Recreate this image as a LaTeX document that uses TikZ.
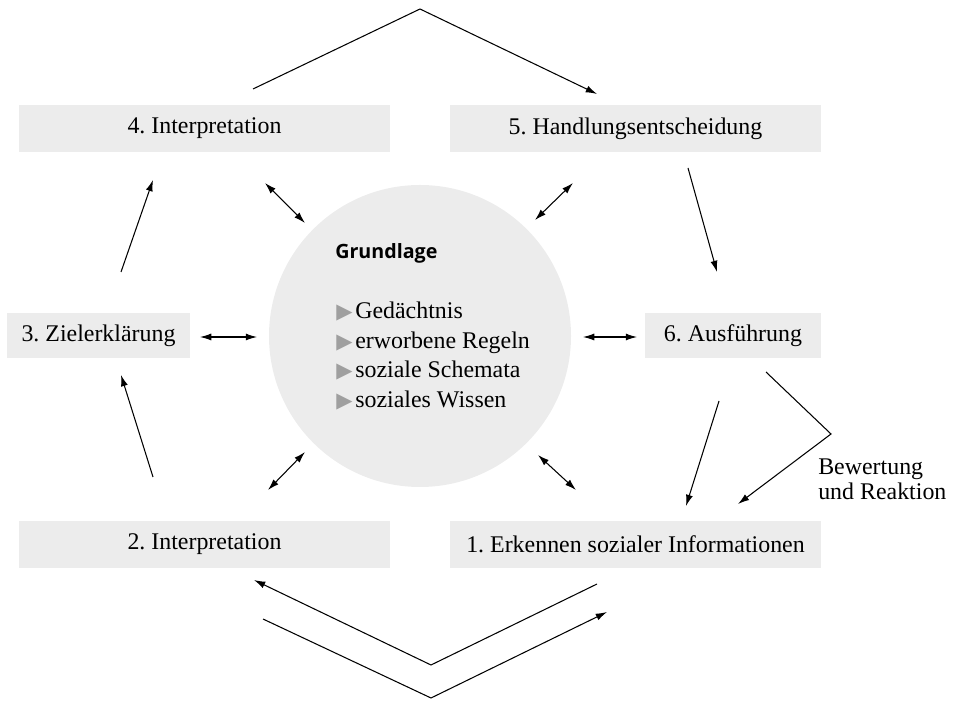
\documentclass[tikz,border=0pt]{standalone}
\usepackage{fontspec}
\setmainfont{Liberation Serif}
\newfontfamily\grundfont{Open Sans}
\newfontfamily\symbolfont{DejaVu Sans}
\usetikzlibrary{arrows.meta}
\newcommand{\punkt}{{\symbolfont\fontsize{15}{15}\selectfont\textcolor{gray!75}{▶}}\hspace{2pt}}

\begin{document}
\frenchspacing
\begin{tikzpicture}[
	kasten/.style={fill=gray!15, inner sep=0pt, minimum height=1.175cm, font=\fontsize{17}{20}\selectfont},
	pfeil/.style={-{Latex[length=8pt,width=5pt]}, line width=0.75pt},
	doppelpfeil/.style={{Latex[length=8pt,width=5pt]}-{Latex[length=8pt,width=5pt]}, line width=0.75pt}]
	\useasboundingbox (0,0) rectangle (24,17.5);

	% Grundlage in der Mitte
	\node[circle, fill=gray!15, minimum size=7.55cm, inner sep=0pt] (kreis) at (10.5,9.1) {};
	\node[anchor=west, inner sep=0pt, font=\grundfont\bfseries\fontsize{14}{16}\selectfont] (grundlage) at (8.375,11.175) {Grundlage};
	\node[anchor=west, inner sep=0pt, align=left, font=\fontsize{17}{21}\selectfont] (liste) at (8.4,8.6)
		{\punkt Gedächtnis\\ \punkt erworbene Regeln\\ \punkt soziale Schemata\\ \punkt soziales Wissen};

	% Schritte
	\node[kasten, minimum width=9.275cm] (schritt1) at (15.8875,3.8875) {1. Erkennen sozialer Informationen};
	\node[kasten, minimum width=9.275cm] (schritt2) at (5.1125,3.8875) {2. Interpretation};
	\node[kasten, minimum width=4.575cm, minimum height=1.125cm] (schritt3) at (2.4625,9.1125) {3. Zielerklärung};
	\node[kasten, minimum width=9.275cm] (schritt4) at (5.1125,14.2875) {4. Interpretation};
	\node[kasten, minimum width=9.275cm] (schritt5) at (15.8875,14.2875) {5. Handlungsentscheidung};
	\node[kasten, minimum width=4.4cm, minimum height=1.125cm] (schritt6) at (18.325,9.1125) {6. Ausführung};
	\node[anchor=west, inner sep=0pt, align=left, font=\fontsize{17}{18}\selectfont] (bewertung) at (20.45,5.5125) {Bewertung\\und Reaktion};

	% Endpunkte der Pfeile
	\coordinate (o1) at (6.325,15.275);
	\coordinate (o2) at (10.5,17.275);
	\coordinate (o3) at (14.925,15.15);
	\coordinate (u1) at (14.925,2.9);
	\coordinate (u2) at (10.775,0.875);
	\coordinate (u3) at (6.35,3.0);
	\coordinate (w1) at (6.575,2.025);
	\coordinate (w2) at (10.775,0.05);
	\coordinate (w3) at (15.175,2.2);
	\coordinate (l1) at (3.825,5.575);
	\coordinate (l2) at (3.025,8.125);
	\coordinate (l3) at (3.025,10.7);
	\coordinate (l4) at (3.825,13.0);
	\coordinate (r1) at (17.2,13.3);
	\coordinate (r2) at (17.925,10.7);
	\coordinate (r3) at (17.975,7.475);
	\coordinate (r4) at (17.15,4.85);
	\coordinate (b1) at (19.15,8.2);
	\coordinate (b2) at (20.775,6.65);
	\coordinate (b3) at (18.45,4.9);

	\draw[pfeil] (o1) -- (o2) -- (o3);
	\draw[pfeil] (u1) -- (u2) -- (u3);
	\draw[pfeil] (w1) -- (w2) -- (w3);
	\draw[pfeil] (l1) -- (l2);
	\draw[pfeil] (l3) -- (l4);
	\draw[pfeil] (r1) -- (r2);
	\draw[pfeil] (r3) -- (r4);
	\draw[pfeil] (b1) -- (b2) -- (b3);

	% Wechselwirkung mit der Grundlage
	\coordinate (d1) at (6.625,12.925);
	\coordinate (d2) at (7.625,11.925);
	\coordinate (d3) at (14.325,12.925);
	\coordinate (d4) at (13.375,12.0);
	\coordinate (d5) at (5.0,9.075);
	\coordinate (d6) at (6.425,9.075);
	\coordinate (d7) at (14.575,9.075);
	\coordinate (d8) at (15.925,9.075);
	\coordinate (d9) at (7.625,6.2);
	\coordinate (d10) at (6.7,5.25);
	\coordinate (d11) at (13.45,6.125);
	\coordinate (d12) at (14.4,5.25);

	\draw[doppelpfeil] (d1) -- (d2);
	\draw[doppelpfeil] (d3) -- (d4);
	\draw[doppelpfeil] (d5) -- (d6);
	\draw[doppelpfeil] (d7) -- (d8);
	\draw[doppelpfeil] (d9) -- (d10);
	\draw[doppelpfeil] (d11) -- (d12);
\end{tikzpicture}
\end{document}
